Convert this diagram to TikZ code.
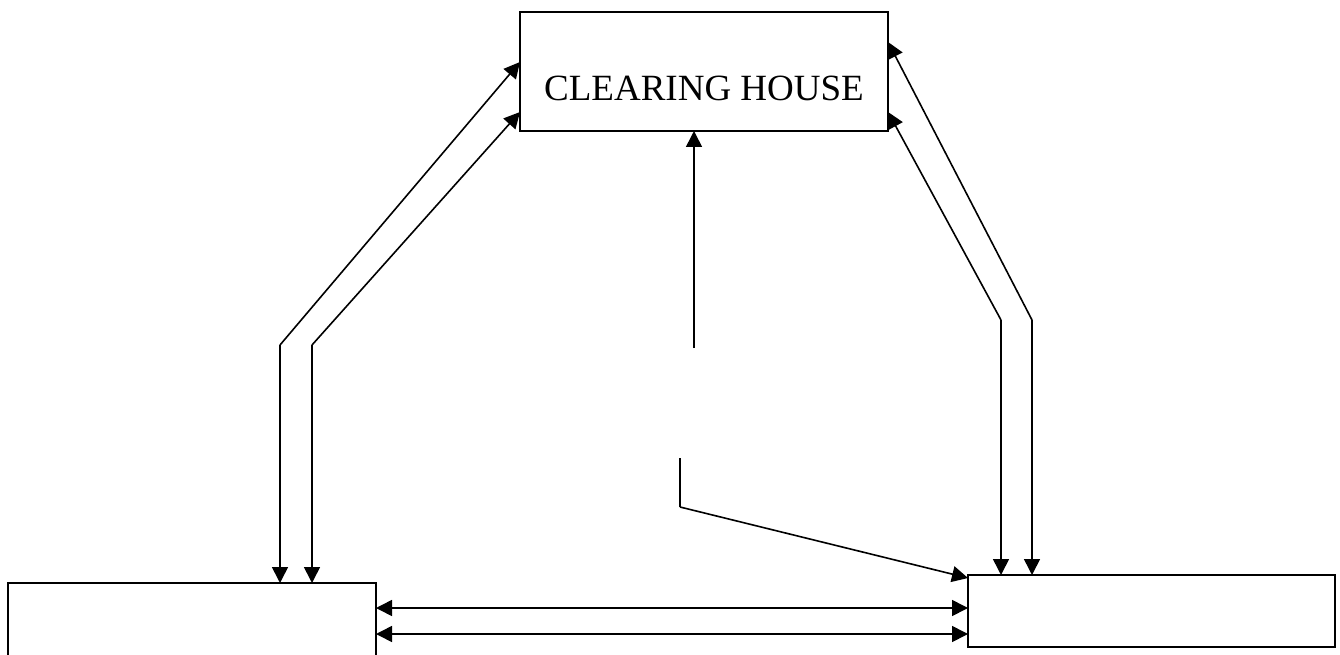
\documentclass[tikz,border=0pt]{standalone}
\usepackage{fontspec}
\setmainfont{Liberation Serif}
\usetikzlibrary{arrows.meta}
\begin{document}
\begin{tikzpicture}[x=1pt,y=-1pt,
  box/.style={draw,line width=1.6pt,inner sep=0pt,outer sep=0pt,anchor=north west},
  ln/.style={line width=1.6pt},
  arr/.style={ln,-{Triangle[length=16pt,width=16pt]}},
  darr/.style={ln,{Triangle[length=16pt,width=16pt]}-{Triangle[length=16pt,width=16pt]}}]
\useasboundingbox (0,0) rectangle (1340,655);
\clip (0,0) rectangle (1340,655);
\node[box,minimum width=368pt,minimum height=119pt,font=\fontsize{37}{40}\selectfont] (ch) at (520,12) {\raisebox{-29pt}[0pt][0pt]{CLEARING HOUSE}};
\node[box,minimum width=368pt,minimum height=100pt] (lb) at (8,583) {};
\node[box,minimum width=367pt,minimum height=72pt] (rb) at (968,575) {};
% left pair
\coordinate (kL1) at (280,345);
\coordinate (kL2) at (312,345);
\draw[arr] (kL1) -- (ch.west |- 0,62);
\draw[arr] (kL2) -- (ch.west |- 0,112);
\draw[arr] (kL1) -- (kL1 |- lb.north);
\draw[arr] (kL2) -- (kL2 |- lb.north);
% right pair
\coordinate (kR1) at (1001,320);
\coordinate (kR2) at (1032,320);
\draw[arr] (kR1) -- (ch.east |- 0,112);
\draw[arr] (kR2) -- (ch.east |- 0,42);
\draw[arr] (kR1) -- (kR1 |- rb.north);
\draw[arr] (kR2) -- (kR2 |- rb.north);
% centre
\coordinate (cV) at (694,348);
\draw[arr] (cV) -- (cV |- ch.south);
\coordinate (cT) at (680,458);
\coordinate (cB) at (680,507);
\draw[ln] (cT) -- (cB);
\draw[arr] (cB) -- (rb.west |- 0,578);
% horizontal double arrows
\draw[darr] (lb.east |- 0,608) -- (rb.west |- 0,608);
\draw[darr] (lb.east |- 0,634) -- (rb.west |- 0,634);
\end{tikzpicture}
\end{document}
